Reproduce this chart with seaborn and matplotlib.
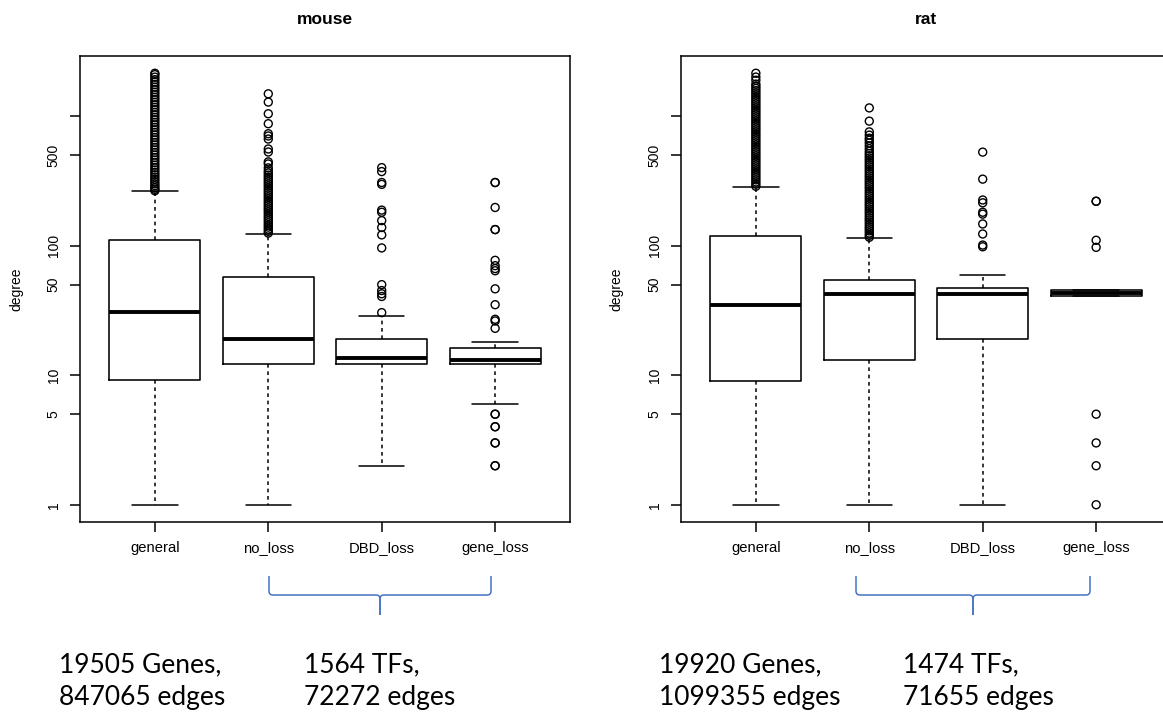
import numpy as np
import pandas as pd
import matplotlib
matplotlib.use("Agg")
import matplotlib.pyplot as plt
from matplotlib.path import Path
from matplotlib.patches import PathPatch
import seaborn as sns

# ---------------- data ----------------
categories = ["general", "no_loss", "DBD_loss", "gene_loss"]

mouse_whislo = [1, 1, 2, 6]
mouse_q1 = [9.2, 12.1, 12.1, 12.1]
mouse_med = [31, 19, 13.6, 13.0]
mouse_q3 = [111, 57, 19, 16.1]
mouse_whishi = [262, 123, 28.4, 18.1]

mouse_out_general = [265, 272, 280, 290, 300, 312, 325, 338, 352, 367, 383, 400,
                     418, 437, 457, 478, 500, 523, 547, 572, 598, 625, 654, 684,
                     715, 748, 782, 818, 855, 894, 935, 978, 1022, 1069, 1118,
                     1169, 1222, 1278, 1336, 1397, 1461, 1528, 1598, 1671, 1747,
                     1827, 1910, 1997, 2088, 2140]
mouse_out_noloss = [125, 129, 134, 139, 144, 150, 156, 162, 168, 175, 182, 189,
                    196, 204, 212, 220, 229, 238, 247, 257, 267, 278, 289, 300,
                    312, 324, 337, 350, 364, 378, 398, 427, 443, 528, 557, 665,
                    702, 731, 873, 1042, 1282, 1485]
mouse_out_dbd = [400, 373, 307, 297, 188, 181, 156, 138, 121, 96, 50, 45, 42.5,
                 40.5, 30.4]
mouse_out_gene = [307, 307, 197, 133, 133, 77, 70, 66.5, 64, 46.4, 35, 27, 26.2,
                  23, 5, 5, 4, 4, 3, 3, 2, 2]

rat_whislo = [1, 1, 1, 41.2]
rat_q1 = [9.0, 13.1, 19, 41.2]
rat_med = [35, 42, 42, 43]
rat_q3 = [118, 54.3, 46.9, 45.2]
rat_whishi = [281, 114.5, 59, 45.2]

rat_out_general = [287, 298, 310, 322, 335, 348, 362, 376, 391, 406, 422, 439,
                   456, 474, 493, 512, 532, 553, 575, 598, 621, 646, 671, 698,
                   725, 754, 784, 815, 847, 880, 915, 951, 988, 1027, 1068, 1110,
                   1154, 1199, 1246, 1296, 1347, 1400, 1455, 1512, 1572, 1634,
                   1698, 1765, 1890, 2000, 2140]
rat_out_noloss = [116, 120, 125, 130, 135, 140, 146, 152, 158, 164, 171, 178, 185,
                  192, 200, 208, 216, 225, 234, 243, 253, 263, 274, 285, 296, 308,
                  320, 333, 346, 360, 375, 390, 406, 422, 439, 457, 475, 494, 514,
                  535, 560, 590, 620, 650, 675, 713, 755, 914, 1156]
rat_out_dbd = [527, 326, 225, 214, 181, 175, 147, 123, 101, 98]
rat_out_gene = [220, 220, 110, 97, 5, 3, 2, 1]

ytick_values = [1, 5, 10, 50, 100, 500, 1000]
ytick_labels = ["1", "5", "10", "50", "100", "500", ""]

panel_titles = ["mouse", "rat"]
note_genes = [["19505 Genes,", "847065 edges"], ["19920 Genes,", "1099355 edges"]]
note_tfs = [["1564 TFs,", "72272 edges"], ["1474 TFs,", "71655 edges"]]

# ---------------- style ----------------
sns.set_style("white")
plt.rcParams["font.family"] = ["Liberation Sans", "DejaVu Sans"]
plt.rcParams["text.color"] = "black"
plt.rcParams["axes.labelcolor"] = "black"
plt.rcParams["xtick.color"] = "black"
plt.rcParams["ytick.color"] = "black"

W, H = 1163, 713
fig = plt.figure(figsize=(W / 100, H / 100), dpi=100)


def px(x, y):
    return x / W, 1 - y / H


def draw_panel(ax, whislo, q1, med, q3, whishi, outliers, title, title_x, ylab_x):
    stats = []
    for i, c in enumerate(categories):
        stats.append(dict(label=c, whislo=whislo[i], q1=q1[i], med=med[i],
                          q3=q3[i], whishi=whishi[i], fliers=[]))
    pos = list(range(1, len(categories) + 1))
    ax.bxp(stats, positions=pos, widths=0.8, capwidths=0.4, showfliers=False,
           boxprops=dict(color="black", linewidth=1.15),
           medianprops=dict(color="black", linewidth=2.8, solid_capstyle="butt"),
           whiskerprops=dict(color="black", linewidth=1.1, linestyle=(0, (2.4, 2.4))),
           capprops=dict(color="black", linewidth=1.1))
    rows = []
    for i, vals in enumerate(outliers):
        for v in vals:
            rows.append({"pos": pos[i], "value": v})
    df = pd.DataFrame(rows)
    sns.scatterplot(data=df, x="pos", y="value", ax=ax, s=33, marker="o",
                    color="black", linewidth=1.0, legend=False, zorder=3)
    coll = ax.collections[-1]
    coll.set_facecolor("none")
    coll.set_edgecolor("black")

    ax.set_yscale("log")
    lo = np.log10(min(min(whislo), min(min(o) for o in outliers)))
    hi = np.log10(max(max(whishi), max(max(o) for o in outliers)))
    pad = 0.04 * (hi - lo)
    ax.set_ylim(10 ** (lo - pad), 10 ** (hi + pad))
    ax.set_xlim(0.34, 4.66)
    ax.set_xticks(pos)
    ax.set_xticklabels(categories)
    ax.yaxis.set_minor_locator(matplotlib.ticker.NullLocator())
    ax.set_yticks(ytick_values)
    ax.set_yticklabels(ytick_labels)
    ax.tick_params(axis="both", direction="out", length=7, width=1.1,
                   color="black", labelcolor="black", pad=7, left=True, bottom=True)
    ax.tick_params(axis="x", labelsize=10.6)
    ax.tick_params(axis="y", labelsize=10, labelrotation=90)
    for lab in ax.get_yticklabels():
        lab.set_va("center")
    ax.set_xlabel("")
    ax.set_ylabel("degree", fontsize=10, labelpad=0, color="black")
    ax.yaxis.set_label_coords(ylab_x, 0.5)
    for s in ax.spines.values():
        s.set_visible(True)
        s.set_color("black")
        s.set_linewidth(1.1)
    fx, fy = px(title_x, 20)
    fig.text(fx, fy, title, ha="center", va="center", fontsize=12.5,
             fontweight="bold", color="black")


def brace(x0, x1, xm, ytop, ybar, ytip, r=4):
    col = "#4472C4"
    for xa, sgn in ((x0, 1), (x1, -1)):
        verts = [px(xa, ytop), px(xa, ybar - r), px(xa, ybar), px(xa + sgn * r, ybar),
                 px(xm - sgn * r, ybar), px(xm, ybar), px(xm, ybar + r), px(xm, ytip)]
        codes = [Path.MOVETO, Path.LINETO, Path.CURVE3, Path.CURVE3, Path.LINETO,
                 Path.CURVE3, Path.CURVE3, Path.LINETO]
        fig.add_artist(PathPatch(Path(verts, codes), fill=False, edgecolor=col,
                                 linewidth=1.1, transform=fig.transFigure))


axb = (H - 522) / H
axh = 466 / H
ax_m = fig.add_axes([80 / W, axb, 490 / W, axh])
ax_r = fig.add_axes([681 / W, axb, 490 / W, axh])

draw_panel(ax_m, mouse_whislo, mouse_q1, mouse_med, mouse_q3, mouse_whishi,
           [mouse_out_general, mouse_out_noloss, mouse_out_dbd, mouse_out_gene],
           panel_titles[0], 325, -0.116)
draw_panel(ax_r, rat_whislo, rat_q1, rat_med, rat_q3, rat_whishi,
           [rat_out_general, rat_out_noloss, rat_out_dbd, rat_out_gene],
           panel_titles[1], 926, -0.118)

brace(269, 491, 380, 576, 595, 615)
brace(856, 1090, 973, 576, 595, 615)

note_font = ["Lato", "DejaVu Sans"]
for (x, lines) in ((59, note_genes[0]), (304, note_tfs[0]),
                   (659, note_genes[1]), (903, note_tfs[1])):
    for yb, t in zip((672, 705), lines):
        fx, fy = px(x, yb)
        fig.text(fx, fy, t, ha="left", va="baseline", fontsize=19,
                 family=note_font, color="black")

fig.savefig("out.png", dpi=100)
